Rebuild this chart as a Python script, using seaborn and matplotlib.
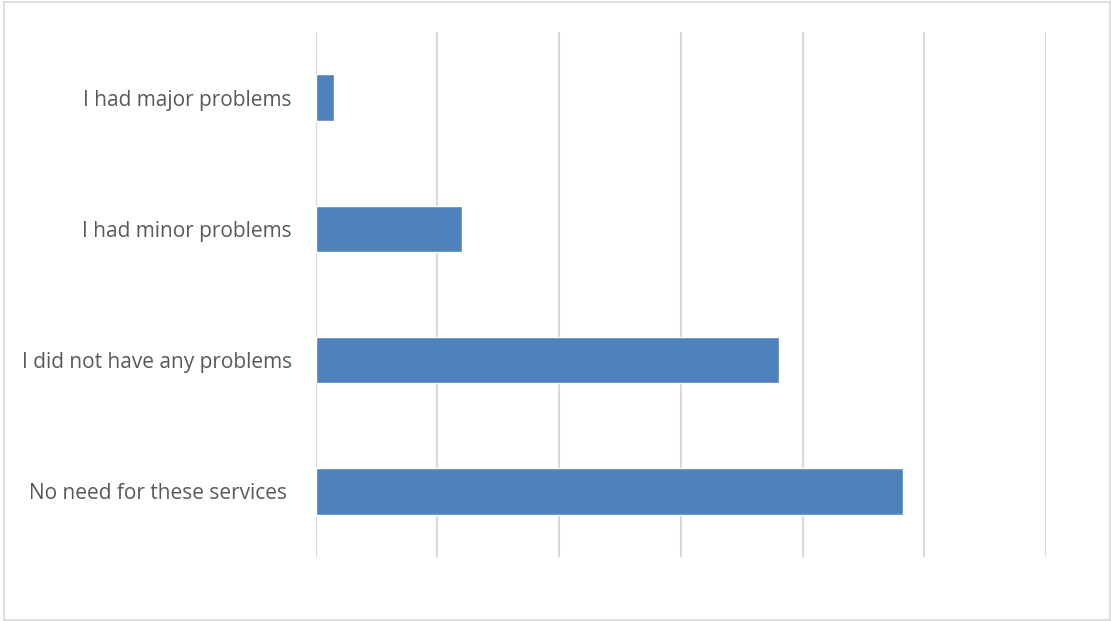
import matplotlib
matplotlib.use("Agg")
import matplotlib.pyplot as plt
from matplotlib.patches import Rectangle
import seaborn as sns
import pandas as pd

categories = [
    "I had major problems",
    "I had minor problems",
    "I did not have any problems",
    "No need for these services ",
]
values = [1.5, 12.0, 38.1, 48.25]

df = pd.DataFrame({"category": categories, "value": values})

sns.set_theme(style="white")
plt.rcParams["font.family"] = ["Open Sans", "DejaVu Sans"]

fig = plt.figure(figsize=(11.11, 6.21), dpi=100)
ax = fig.add_axes([315.5 / 1111, 1 - 557 / 621, (1046 - 315.5) / 1111, (557 - 32) / 621])

sns.barplot(data=df, x="value", y="category", color="#4f81bd", saturation=1,
            width=0.354, ax=ax, orient="h")

ax.set_xlim(0, 60)
ax.set_ylim(3.5, -0.5)
ax.set_xticks(range(0, 61, 10))
ax.xaxis.grid(True, color="#d9d9d9", linewidth=1.5)
ax.set_axisbelow(True)
ax.tick_params(axis="x", labelbottom=False, length=0)
ax.tick_params(axis="y", length=0, pad=17, labelsize=15, labelcolor="#595959")
ax.set_xlabel("")
ax.set_ylabel("")
for s in ax.spines.values():
    s.set_visible(False)

fig.patches.append(Rectangle((3.5 / 1111, 1 - 619.5 / 621), (1110 - 3.5) / 1111, (619.5 - 1.5) / 621,
                             transform=fig.transFigure, fill=False, edgecolor="#d9d9d9",
                             linewidth=1.2))

fig.savefig("out.png", dpi=100)
